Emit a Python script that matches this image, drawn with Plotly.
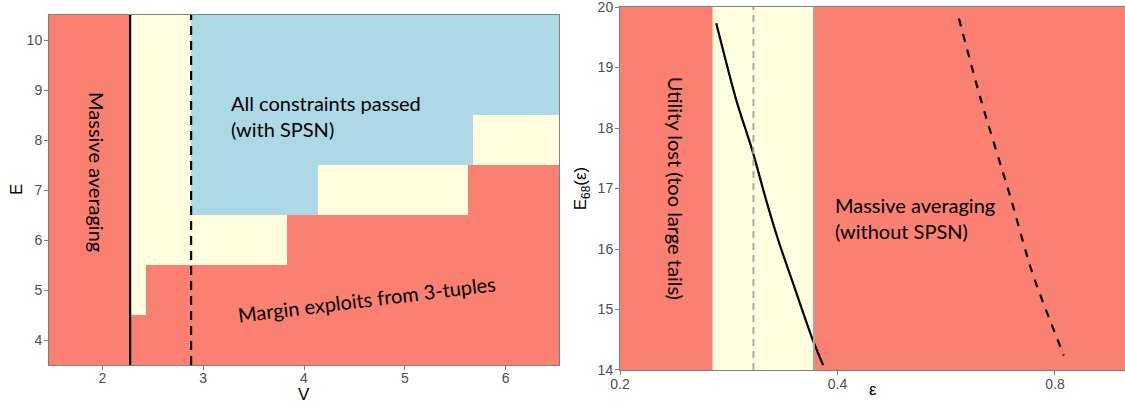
import math
import plotly.graph_objects as go

# ---------------- left panel: constraint status over the (V, E) grid ----------------
v_edges = [1.47, 2.275, 2.43, 2.88, 3.83, 4.14, 5.63, 5.68, 6.53]
e_rows = [4, 5, 6, 7, 8, 9, 10]
# 0 = fails (averaging / margin exploits), 1 = intermediate, 2 = all constraints passed
status = [
    [0, 0, 0, 0, 0, 0, 0, 0],
    [0, 1, 0, 0, 0, 0, 0, 0],
    [0, 1, 1, 1, 0, 0, 0, 0],
    [0, 1, 1, 2, 2, 1, 0, 0],
    [0, 1, 1, 2, 2, 2, 2, 1],
    [0, 1, 1, 2, 2, 2, 2, 2],
    [0, 1, 1, 2, 2, 2, 2, 2],
]
v_solid = 2.275
v_dashed = 2.88
v_ticks = [2, 3, 4, 5, 6]
e_ticks = [4, 5, 6, 7, 8, 9, 10]

# ---------------- right panel: E68 against epsilon ----------------
eps_solid = [0.2718, 0.2897, 0.3049, 0.3188, 0.3313, 0.3498, 0.3699, 0.3821]
e68_solid = [19.73, 18.46, 17.63, 16.80, 16.14, 15.32, 14.49, 14.08]
eps_dashed = [0.589, 0.632, 0.694, 0.745, 0.823]
e68_dashed = [19.81, 18.46, 16.86, 15.59, 14.24]
eps_band = [0.2686, 0.371]
eps_ref = 0.306
eps_ticks = [0.2, 0.4, 0.8]
eps_ticktext = ["0.2", "0.4", "0.8"]
e68_ticks = [14, 15, 16, 17, 18, 19, 20]

RED = "#FA8072"
YELLOW = "#FFFFE0"
BLUE = "#ADD8E6"
BORDER = "#7f7f7f"
TICKFONT = dict(family="Liberation Sans, Arial, sans-serif", size=14, color="#4D4D4D")
TITLEFONT = dict(family="Liberation Sans, Arial, sans-serif", size=17, color="black")
NOTEFONT = dict(family="Lato, sans-serif", size=20, color="black")

W, H = 1125, 406


def xdom(a, b):
    return [a / W, b / W]


def ydom(top, bottom):
    return [1 - bottom / H, 1 - top / H]


fig = go.Figure()

fig.add_trace(go.Heatmap(
    x=v_edges, y=e_rows, z=status,
    zmin=0, zmax=2,
    colorscale=[[0, RED], [0.5, YELLOW], [1, BLUE]],
    showscale=False, hoverinfo="skip", zsmooth=False,
    xaxis="x", yaxis="y",
))

fig.add_trace(go.Scatter(
    x=eps_solid, y=e68_solid, mode="lines",
    line=dict(color="black", width=2.2, shape="spline", smoothing=0.8),
    xaxis="x2", yaxis="y2", hoverinfo="skip", showlegend=False,
))
fig.add_trace(go.Scatter(
    x=eps_dashed, y=e68_dashed, mode="lines",
    line=dict(color="black", width=2.2, dash="8px,8px", shape="spline", smoothing=0.8),
    xaxis="x2", yaxis="y2", hoverinfo="skip", showlegend=False,
))

shapes = [
    # left panel threshold lines
    dict(type="line", xref="x", yref="y domain", x0=v_solid, x1=v_solid, y0=0, y1=1,
         line=dict(color="black", width=2.2)),
    dict(type="line", xref="x", yref="y domain", x0=v_dashed, x1=v_dashed, y0=0, y1=1,
         line=dict(color="black", width=2.2, dash="9px,6px")),
    # right panel admissible band
    dict(type="rect", xref="x2", yref="y2 domain", x0=eps_band[0], x1=eps_band[1], y0=0, y1=1,
         fillcolor=YELLOW, line=dict(width=0), layer="below"),
    dict(type="line", xref="x2", yref="y2 domain", x0=eps_band[1], x1=eps_band[1], y0=0, y1=1,
         line=dict(color="#A9A9A9", width=2)),
    dict(type="line", xref="x2", yref="y2 domain", x0=eps_ref, x1=eps_ref, y0=0, y1=1,
         line=dict(color="#A9A9A9", width=2, dash="7px,5px")),
]

# annotation x on a log axis is given in log10 units
annotations = [
    dict(text="Massive averaging", x=1.946, y=7.36, xref="x", yref="y",
         textangle=90, showarrow=False, font=NOTEFONT),
    dict(text="All constraints passed<br>(with SPSN)", x=3.256, y=8.49, xref="x", yref="y",
         xanchor="left", align="left", showarrow=False, font=NOTEFONT),
    dict(text="Margin exploits from 3-tuples", x=4.625, y=4.82, xref="x", yref="y",
         textangle=-7, showarrow=False, font=NOTEFONT),
    dict(text="Utility lost (too large tails)", x=math.log10(0.2396), y=17.0, xref="x2", yref="y2",
         textangle=90, showarrow=False, font=NOTEFONT),
    dict(text="Massive averaging<br>(without SPSN)", x=math.log10(0.3937), y=16.52,
         xref="x2", yref="y2",
         xanchor="left", align="left", showarrow=False, font=NOTEFONT),
    # axis titles placed tight against the tick labels
    dict(text="E", x=16 / W, y=0.5, xref="paper", yref="y domain",
         xanchor="center", textangle=-90, showarrow=False, font=TITLEFONT),
    dict(text="V", x=0.5, y=1 - 394 / H, xref="x domain", yref="paper",
         yanchor="middle", showarrow=False, font=TITLEFONT),
    dict(text="ε", x=0.5, y=1 - 389 / H, xref="x2 domain", yref="paper",
         yanchor="middle", showarrow=False, font=TITLEFONT),
]

axis_common = dict(
    showgrid=False, zeroline=False, showline=True, linecolor=BORDER, linewidth=1,
    ticks="outside", ticklen=4, tickcolor=BORDER, tickwidth=1, tickfont=TICKFONT,
    automargin=False, ticklabeloverflow="allow",
)

fig.update_layout(
    width=W, height=H,
    margin=dict(l=0, r=0, t=0, b=0),
    paper_bgcolor="white", plot_bgcolor=RED,
    showlegend=False,
    shapes=shapes, annotations=annotations,
    xaxis=dict(axis_common, domain=xdom(49, 559), range=[1.47, 6.53], mirror=True,
               tickvals=v_ticks, anchor="y", ticklabelstandoff=-4),
    yaxis=dict(axis_common, domain=ydom(15, 365), range=[3.5, 10.5], mirror=True,
               tickvals=e_ticks, anchor="x", ticklabelstandoff=-1),
    xaxis2=dict(axis_common, domain=xdom(620, 1125), type="log", range=[-0.69898, 0.0],
                mirror=True, tickvals=eps_ticks, ticktext=eps_ticktext, anchor="y2",
                ticklabelstandoff=-3),
    yaxis2=dict(axis_common, domain=ydom(7, 370), range=[13.9999, 20.0001], mirror=False,
                tickvals=e68_ticks, ticklabelstandoff=-1,
                title=dict(text="E<sub>68</sub>(ε)", font=TITLEFONT, standoff=6), anchor="x2"),
)

fig.write_html("out.html")
